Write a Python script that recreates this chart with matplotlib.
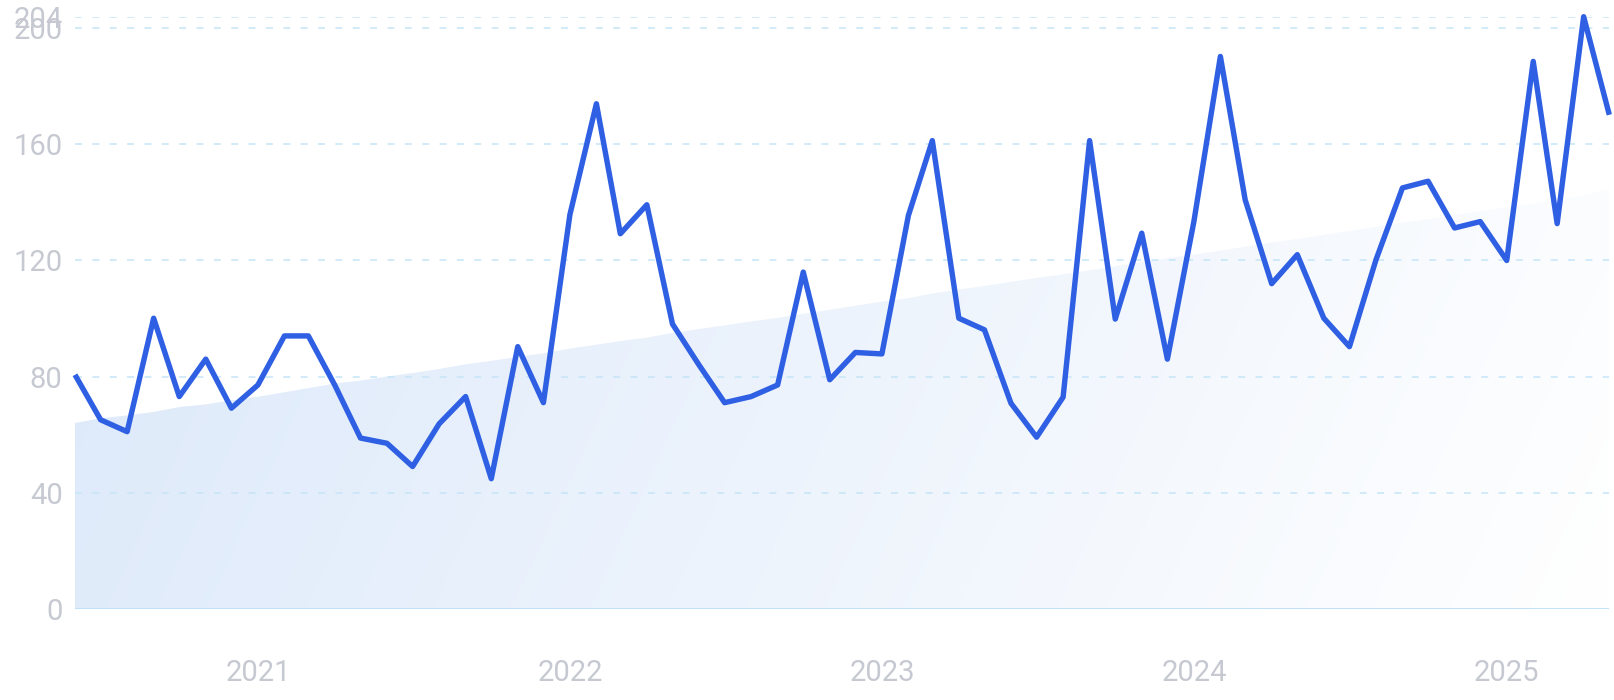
import numpy as np
import pandas as pd
import matplotlib
matplotlib.use("Agg")
import matplotlib.pyplot as plt
import matplotlib.dates as mdates

plt.rcParams['font.family'] = ['Roboto', 'DejaVu Sans']
plt.rcParams['lines.scale_dashes'] = False

# monthly values, Jun 2020 - May 2025
months = pd.date_range("2020-06-01", periods=60, freq="MS")
values = [80.6, 65.1, 61.0, 100.1, 73.1, 86.0, 69.1, 77.1, 94.0, 94.0,
          77.0, 58.8, 57.0, 49.0, 63.7, 73.1, 44.8, 90.3, 71.0, 135.8,
          174.0, 129.2, 139.2, 98.1, 84.0, 71.0, 73.1, 77.1, 116.0, 78.9,
          88.3, 87.8, 135.5, 161.3, 100.1, 96.1, 70.8, 59.1, 72.9, 161.3,
          99.8, 129.4, 86.0, 133.4, 190.3, 140.9, 112.0, 122.0, 100.1, 90.3,
          120.2, 145.0, 147.3, 131.2, 133.4, 120.0, 188.6, 132.7, 204.0, 170.2]
trend = [64.0, 65.6, 66.6, 67.8, 69.5, 70.4, 71.8, 73.0, 74.6, 76.0,
         77.6, 78.6, 80.0, 81.2, 82.6, 84.2, 85.4, 86.8, 88.0, 89.6,
         91.0, 92.2, 93.4, 95.0, 96.4, 97.6, 99.0, 100.2, 101.6, 103.0,
         104.4, 105.8, 107.0, 108.6, 110.0, 111.2, 112.6, 114.0, 115.2, 116.6,
         118.0, 119.4, 120.8, 122.0, 123.4, 124.8, 126.2, 127.4, 128.8, 130.2,
         131.6, 133.0, 134.2, 135.6, 137.0, 138.4, 139.6, 141.0, 142.4, 144.6]
y_ticks = [0, 40, 80, 120, 160, 200, 204]
year_ticks = ["2021", "2022", "2023", "2024", "2025"]

W, H = 1615, 700
fig = plt.figure(figsize=(W / 100, H / 100), dpi=100)
ax = fig.add_axes([75 / W, (H - 608.7) / H, (1609.3 - 75) / W, (608.7 - 16.7) / H])

x = mdates.date2num(months)
ax.set_xlim(x[0], x[-1])
ax.set_ylim(0, 204)

# gradient area under the trend
fill = ax.fill_between(x, 0, trend, color="none", lw=0)
xn = np.linspace(0, 1, 400)[None, :]
yn = np.linspace(0, 1, 200)[:, None]  # 0 top, 1 bottom
t = np.clip(0.85 * xn + 0.15 * yn, 0, 1)
c0 = np.array([219, 232, 250]) / 255
c1 = np.array([255, 255, 255]) / 255
img = c0[None, None, :] * (1 - t[..., None]) + c1[None, None, :] * t[..., None]
im = ax.imshow(img, extent=[x[0], x[-1], 0, 204], aspect="auto", origin="upper", zorder=1)
im.set_clip_path(fill.get_paths()[0], transform=ax.transData)

for v in y_ticks[1:]:
    ax.axhline(v, color="#c6e5f8", lw=1.1, ls=(0, (5, 7.5)), zorder=2)
ax.axhline(0, color="#bcdff9", lw=1.3, zorder=2)

ax.plot(x, values, color="#2f60e4", lw=3.9, solid_joinstyle="round",
        solid_capstyle="butt", zorder=3, clip_on=False)

ax.set_yticks(y_ticks)
ax.set_yticklabels([str(v) for v in y_ticks])
ax.set_xticks(mdates.date2num(pd.to_datetime([y + "-01-01" for y in year_ticks])))
ax.set_xticklabels(year_ticks)
ax.tick_params(axis="y", length=0, pad=9, labelsize=21, labelcolor="#c6c9d1")
ax.tick_params(axis="x", length=0, pad=36, labelsize=21, labelcolor="#c6c9d1")
for s in ax.spines.values():
    s.set_visible(False)

fig.savefig("out.png", dpi=100)
